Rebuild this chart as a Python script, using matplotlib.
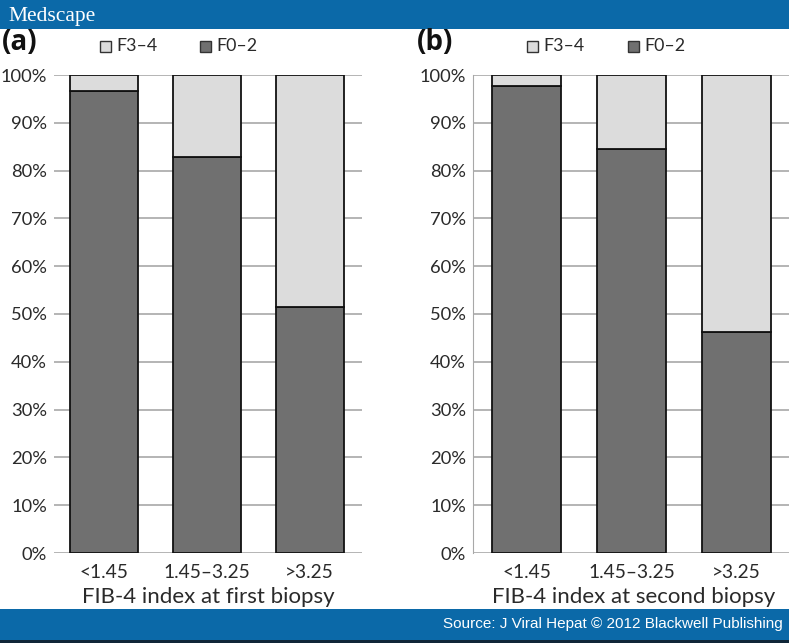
import numpy as np
import matplotlib
matplotlib.use("Agg")
import matplotlib.pyplot as plt
from matplotlib.patches import Rectangle

plt.rcParams['font.family'] = ['Lato', 'DejaVu Sans']

categories = ["<1.45", "1.45\u20133.25", ">3.25"]
f02_first = [96.7, 82.8, 51.4]
f02_second = [97.8, 84.6, 46.3]
yticks = np.arange(0, 101, 10)
series_names = ["F3\u20134", "F0\u20132"]

DARK = "#707070"
LIGHT = "#dcdcdc"
TEXT = "#2a2a2a"
W, H = 789, 643

fig = plt.figure(figsize=(W / 100, H / 100), dpi=100)


def px_axes(x0, x1, ytop, ybot):
    return fig.add_axes([x0 / W, 1 - ybot / H, (x1 - x0) / W, (ybot - ytop) / H])


def panel(ax, f02, xlabel, xlim, left_spine):
    x = np.arange(len(categories))
    f34 = [100 - v for v in f02]
    ax.bar(x, f02, width=0.66, color=DARK, edgecolor="#111111", linewidth=1.3, zorder=3)
    ax.bar(x, f34, bottom=f02, width=0.66, color=LIGHT, edgecolor="#111111", linewidth=1.3, zorder=3)
    ax.set_xlim(*xlim)
    ax.set_ylim(0, 100)
    ax.set_yticks(yticks)
    ax.set_yticklabels([f"{v}%" for v in yticks])
    ax.set_xticks(x)
    ax.set_xticklabels(categories)
    ax.grid(axis="y", color="#a8a8a8", linewidth=1.2, zorder=0)
    for s in ["top", "right", "bottom"]:
        ax.spines[s].set_visible(False)
    ax.spines["left"].set_visible(left_spine)
    ax.spines["left"].set_color("#a8a8a8")
    ax.tick_params(length=0, labelcolor=TEXT)
    ax.tick_params(axis="y", pad=5, labelsize=13.2)
    ax.tick_params(axis="x", pad=8, labelsize=13.8)
    ax.set_xlabel(xlabel, fontsize=16, color=TEXT, labelpad=4)


ax1 = px_axes(54, 362, 75, 553)
panel(ax1, f02_first, "FIB-4 index at first biopsy", (-0.49, 2.51), False)
ax2 = px_axes(473, 795, 75, 553)
panel(ax2, f02_second, "FIB-4 index at second biopsy", (-0.51, 2.56), True)

# legends and panel letters
for lx, letter in [(0, "(a)"), (415, "(b)")]:
    fig.text((lx + 2) / W, 1 - 43 / H, letter, fontsize=20, fontweight="bold",
             color="#111111", va="center", ha="left", family=["Open Sans", "DejaVu Sans"])
for sx, name, col in [(100, series_names[0], LIGHT), (200, series_names[1], DARK),
                      (527, series_names[0], LIGHT), (628, series_names[1], DARK)]:
    fig.patches.append(Rectangle((sx / W, 1 - 52 / H), 11 / W, 11 / H, transform=fig.transFigure,
                                 facecolor=col, edgecolor="#333333", linewidth=1))
    fig.text((sx + 16) / W, 1 - 46 / H, name, fontsize=12.8, color=TEXT, va="center", ha="left")

# Medscape banners
fig.patches.append(Rectangle((0, 1 - 29 / H), 1, 29 / H, transform=fig.transFigure,
                             facecolor="#0b69a8", edgecolor="none"))
fig.text(8 / W, 1 - 16 / H, "Medscape", fontsize=15.5, color="white", va="center", ha="left",
         family=["Liberation Serif", "DejaVu Serif"])
fig.patches.append(Rectangle((0, 3 / H), 1, 31 / H, transform=fig.transFigure,
                             facecolor="#0b69a8", edgecolor="none"))
fig.patches.append(Rectangle((0, 0), 1, 3 / H, transform=fig.transFigure,
                             facecolor="#102638", edgecolor="none"))
fig.text(783 / W, 1 - 624 / H, "Source: J Viral Hepat \u00a9 2012 Blackwell Publishing", fontsize=11,
         color="white", va="center", ha="right", family=["Liberation Sans", "DejaVu Sans"])

fig.savefig("out.png", dpi=100)
